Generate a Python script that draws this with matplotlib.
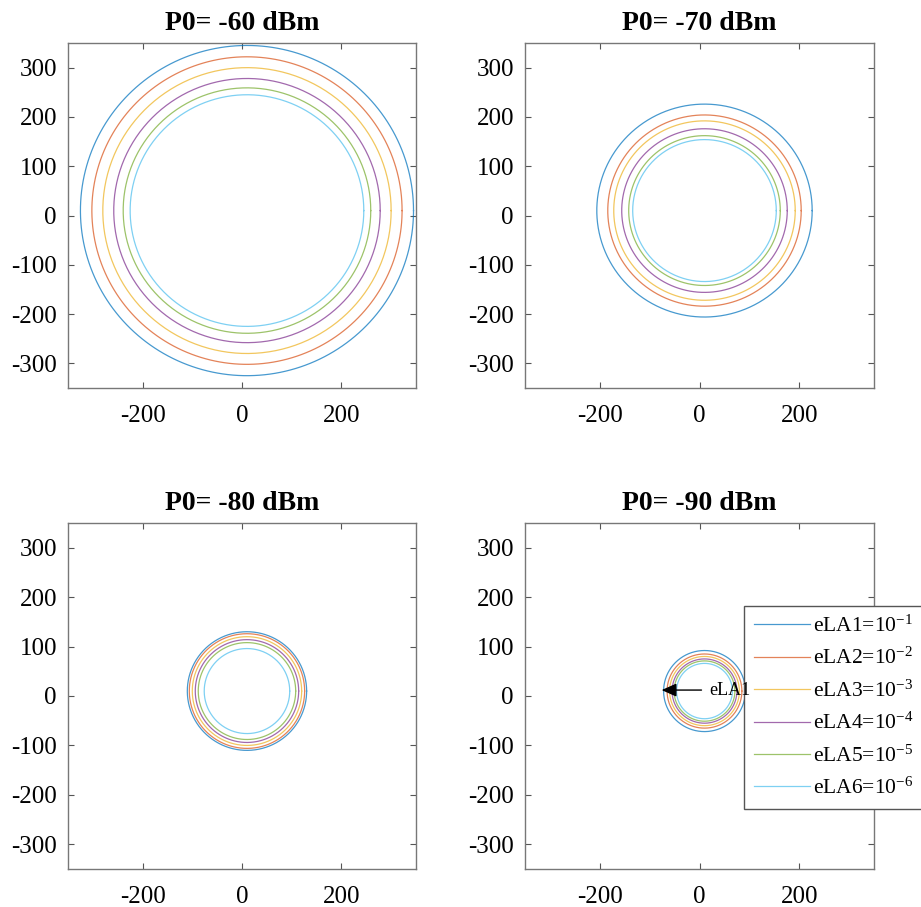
import numpy as np
import matplotlib
matplotlib.use("Agg")
import matplotlib.pyplot as plt

plt.rcParams['font.family'] = ['Liberation Serif', 'DejaVu Serif']
plt.rcParams['mathtext.fontset'] = 'custom'
plt.rcParams['mathtext.rm'] = 'Liberation Serif'
plt.rcParams['mathtext.it'] = 'Liberation Serif:italic'
plt.rcParams['mathtext.bf'] = 'Liberation Serif:bold'
plt.rcParams['axes.unicode_minus'] = False

# ---- data ----
titles = ["P0= -60 dBm", "P0= -70 dBm", "P0= -80 dBm", "P0= -90 dBm"]
series = ["eLA1=10$^{-1}$", "eLA2=10$^{-2}$", "eLA3=10$^{-3}$",
          "eLA4=10$^{-4}$", "eLA5=10$^{-5}$", "eLA6=10$^{-6}$"]
center_x = 10
center_y = 10
radii_60 = [335, 312, 290, 268, 249, 235]
radii_70 = [216, 194, 182, 166, 152, 144]
radii_80 = [120, 116, 110, 104, 98, 86]
radii_90 = [82, 75, 70, 65, 61, 56]
all_radii = [radii_60, radii_70, radii_80, radii_90]
ticks = [-300, -200, -100, 0, 100, 200, 300]
xticks = [-200, 0, 200]
lim = [-350, 350]

colors = ['#0072BD', '#D95319', '#EDB120', '#7E2F8E', '#77AC30', '#4DBEEE']

W, H = 921, 907
fig = plt.figure(figsize=(W / 100, H / 100), dpi=100)

positions = [
    (68, 43, 416, 388),
    (525, 43, 874, 388),
    (68, 523, 416, 869),
    (525, 523, 874, 869),
]

theta = np.linspace(0, 2 * np.pi, 400)
axes = []
for i, (l, t, r, b) in enumerate(positions):
    ax = fig.add_axes([l / W, 1 - b / H, (r - l) / W, (b - t) / H])
    for rad, c, lab in zip(all_radii[i], colors, series):
        ax.plot(center_x + rad * np.cos(theta), center_y + rad * np.sin(theta),
                color=c, lw=0.9, alpha=0.72, label=lab)
    ax.set_xlim(lim)
    ax.set_ylim(lim)
    ax.set_xticks(xticks)
    ax.set_yticks(ticks)
    ax.tick_params(direction='in', length=4, width=0.8, color='#555555',
                   labelsize=18, top=True, right=True)
    ax.tick_params(axis='x', pad=12)
    ax.tick_params(axis='y', pad=8)
    for sp in ax.spines.values():
        sp.set_color('#777777')
        sp.set_linewidth(1.0)
    ax.set_title(titles[i], fontsize=20, fontweight='bold', pad=9)
    axes.append(ax)

ax4 = axes[3]
ax4.annotate("", xy=(-76, 12), xytext=(4, 12),
             arrowprops=dict(arrowstyle='-|>,head_length=0.9,head_width=0.4',
                             color='black', lw=1.0, shrinkA=0, shrinkB=0))
ax4.text(20, 12, "eLA1", fontsize=13, va='center', ha='left', zorder=10)

leg = ax4.legend(loc='upper left', bbox_to_anchor=(744 / W, 1 - 606 / H),
                 bbox_transform=fig.transFigure, fontsize=15.5,
                 handlelength=2.6, handletextpad=0.15, labelspacing=0.52,
                 borderpad=0.45, borderaxespad=0, fancybox=False,
                 framealpha=1, edgecolor='#555555')
leg.get_frame().set_linewidth(1.0)
leg.set_zorder(5)

fig.savefig("out.png", dpi=100)
